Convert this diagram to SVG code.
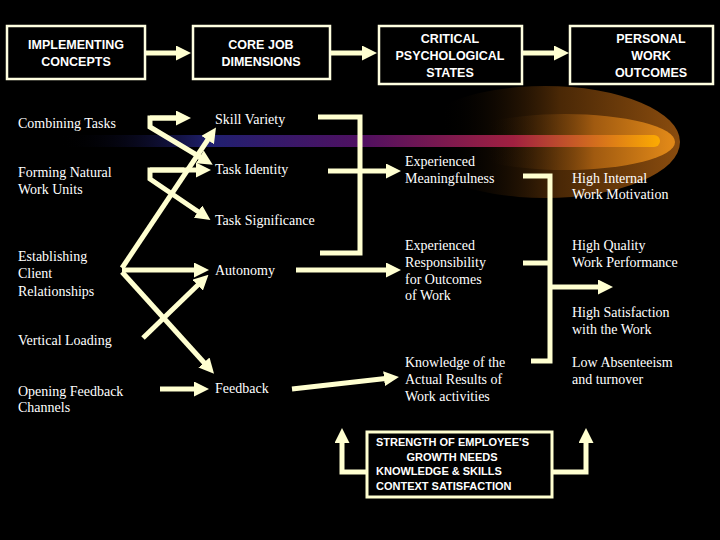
<svg xmlns="http://www.w3.org/2000/svg" width="720" height="540" viewBox="0 0 720 540">
<defs>
<style>
.hb{fill:#000;stroke:#ffffe0;stroke-width:2.5}
.ht{font-family:"Liberation Sans",Arial,sans-serif;font-size:12.5px;font-weight:bold;fill:#fff;text-anchor:middle}
.t{font-family:"Liberation Serif","Times New Roman",serif;font-size:14px;fill:#fff}
.c{fill:none;stroke:#ffffd0;stroke-width:5}
.bt{font-family:"Liberation Sans",Arial,sans-serif;font-size:11px;font-weight:bold;fill:#fff}
</style>
<marker id="a" markerWidth="3" markerHeight="3" refX="1.2" refY="1.5" orient="auto" markerUnits="strokeWidth"><path d="M0,0L3,1.5L0,3z" fill="#ffffd0"/></marker>
<linearGradient id="s" x1="60" y1="0" x2="665" y2="0" gradientUnits="userSpaceOnUse">
<stop offset="0" stop-color="#000" stop-opacity="0"/><stop offset="0.25" stop-color="#202070"/><stop offset="0.5" stop-color="#501060"/><stop offset="0.75" stop-color="#a02040"/><stop offset="1" stop-color="#ffb000"/></linearGradient>
<linearGradient id="g" x1="440" y1="0" x2="680" y2="0" gradientUnits="userSpaceOnUse">
<stop offset="0" stop-color="#000" stop-opacity="0"/><stop offset="0.5" stop-color="#4a2806"/><stop offset="1" stop-color="#8a4c0e"/></linearGradient>
<linearGradient id="g2" x1="480" y1="0" x2="670" y2="0" gradientUnits="userSpaceOnUse">
<stop offset="0" stop-color="#000" stop-opacity="0"/><stop offset="0.6" stop-color="#a05a10"/><stop offset="1" stop-color="#e08818"/></linearGradient>
</defs>
<rect width="720" height="540" fill="#000"/>
<g id="streak">
<ellipse cx="545" cy="142" rx="135" ry="56" fill="url(#g)"/>
<ellipse cx="565" cy="142" rx="110" ry="28" fill="url(#g2)"/>
<rect x="60" y="135" width="600" height="12" rx="6" fill="url(#s)"/>
</g>
<g id="headers">
<g id="h1"><rect class="hb" x="7" y="26" width="138" height="53"/><text class="ht" x="76" y="49">IMPLEMENTING</text><text class="ht" x="76" y="66">CONCEPTS</text></g>
<g id="h2"><rect class="hb" x="193" y="26" width="137" height="53"/><text class="ht" x="261" y="49">CORE JOB</text><text class="ht" x="261" y="66">DIMENSIONS</text></g>
<g id="h3"><rect class="hb" x="379" y="26" width="143" height="58"/><text class="ht" x="450" y="43">CRITICAL</text><text class="ht" x="450" y="60">PSYCHOLOGICAL</text><text class="ht" x="450" y="77">STATES</text></g>
<g id="h4"><rect class="hb" x="570" y="26" width="143" height="58"/><text class="ht" x="651" y="43">PERSONAL</text><text class="ht" x="651" y="60">WORK</text><text class="ht" x="651" y="77">OUTCOMES</text></g>
</g>
<g id="connectors">
<path class="c" d="M146,53H182" marker-end="url(#a)"/>
<path class="c" d="M331,53H368" marker-end="url(#a)"/>
<path class="c" d="M523,53H560" marker-end="url(#a)"/>
<path class="c" d="M150,118H182" marker-end="url(#a)"/>
<path class="c" d="M184,118H150V127L205,160" marker-end="url(#a)"/>
<path class="c" d="M150,170H202" marker-end="url(#a)"/>
<path class="c" d="M184,170H150V179L203,215" marker-end="url(#a)"/>
<path class="c" d="M122,268L211,135" marker-end="url(#a)"/>
<path class="c" d="M122,270H200" marker-end="url(#a)"/>
<path class="c" d="M122,272L208,367" marker-end="url(#a)"/>
<path class="c" d="M143,338L202,281" marker-end="url(#a)"/>
<path class="c" d="M160,389H200" marker-end="url(#a)"/>
<path class="c" d="M318,117H360V253H320"/>
<path class="c" d="M328,171H392" marker-end="url(#a)"/>
<path class="c" d="M296,270H392" marker-end="url(#a)"/>
<path class="c" d="M292,389L390,378" marker-end="url(#a)"/>
<path class="c" d="M523,176H550V361H531M523,263H550M550,287H604" marker-end="url(#a)"/>
<path class="c" d="M367,472H342V437" marker-end="url(#a)"/>
<path class="c" d="M552,472H586V437" marker-end="url(#a)"/>
</g>
<g id="concepts">
<text class="t" x="18" y="128">Combining Tasks</text>
<text class="t" x="18" y="177">Forming Natural</text><text class="t" x="18" y="194">Work Units</text>
<text class="t" x="18" y="261">Establishing</text><text class="t" x="18" y="278">Client</text><text class="t" x="18" y="296">Relationships</text>
<text class="t" x="18" y="345">Vertical Loading</text>
<text class="t" x="18" y="396">Opening Feedback</text><text class="t" x="18" y="412">Channels</text>
</g>
<g id="dimensions">
<text class="t" x="215" y="124">Skill Variety</text>
<text class="t" x="215" y="174">Task Identity</text>
<text class="t" x="215" y="225">Task Significance</text>
<text class="t" x="215" y="275">Autonomy</text>
<text class="t" x="215" y="393">Feedback</text>
</g>
<g id="states">
<text class="t" x="405" y="166">Experienced</text><text class="t" x="405" y="183">Meaningfulness</text>
<text class="t" x="405" y="250">Experienced</text><text class="t" x="405" y="267">Responsibility</text><text class="t" x="405" y="284">for Outcomes</text><text class="t" x="405" y="300">of Work</text>
<text class="t" x="405" y="367">Knowledge of the</text><text class="t" x="405" y="384">Actual Results of</text><text class="t" x="405" y="401">Work activities</text>
</g>
<g id="outcomes">
<text class="t" x="572" y="183">High Internal</text><text class="t" x="572" y="199">Work Motivation</text>
<text class="t" x="572" y="250">High Quality</text><text class="t" x="572" y="267">Work Performance</text>
<text class="t" x="572" y="317">High Satisfaction</text><text class="t" x="572" y="334">with the Work</text>
<text class="t" x="572" y="367">Low Absenteeism</text><text class="t" x="572" y="384">and turnover</text>
</g>
<g id="moderators">
<rect x="367" y="432" width="185" height="65" fill="#000" stroke="#ffffd0" stroke-width="3"/>
<text class="bt" x="376" y="446">STRENGTH OF EMPLOYEE'S</text>
<text class="bt" x="452" y="461" text-anchor="middle">GROWTH NEEDS</text>
<text class="bt" x="376" y="475">KNOWLEDGE &amp; SKILLS</text>
<text class="bt" x="376" y="490">CONTEXT SATISFACTION</text>
</g>
</svg>
